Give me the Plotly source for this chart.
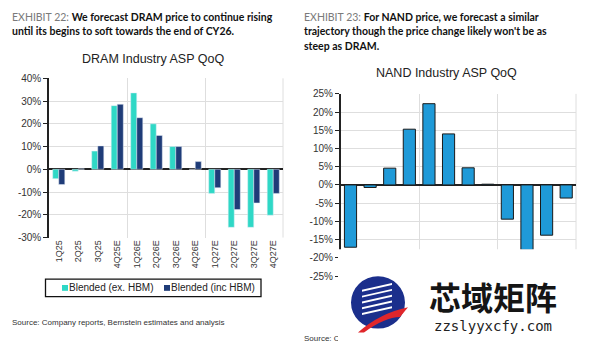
import plotly.graph_objects as go

quarters = ["1Q25", "2Q25", "3Q25", "4Q25E", "1Q26E", "2Q26E", "3Q26E", "4Q26E",
            "1Q27E", "2Q27E", "3Q27E", "4Q27E"]
dram_ex_hbm = [-4.1, -0.8, 8.0, 28.0, 33.6, 20.0, 10.0, 0.0, -10.6, -25.5, -25.5, -20.2]
dram_inc_hbm = [-6.7, 0.2, 10.3, 28.6, 22.7, 14.9, 10.0, 3.4, -8.1, -17.7, -14.8, -10.6]
nand = [-17.1, -0.7, 4.6, 15.3, 22.3, 14.0, 4.7, 0.2, -9.4, -17.9, -13.8, -3.6]
dram_ticks = [40, 30, 20, 10, 0, -10, -20, -30]
nand_ticks = [25, 20, 15, 10, 5, 0, -5, -10, -15, -20, -25]
series_names = ["Blended (ex. HBM)", "Blended (inc HBM)"]

W, H = 600, 354
idx = list(range(len(quarters)))

TEAL = "#2fd8c6"
NAVY = "#1f3c78"
BLUE = "#1f9ad8"
GRID = "#dedede"
SANS = "Liberation Sans, Arial, sans-serif"


def px(x):
    return x / W


def py(y):
    return 1 - y / H


fig = go.Figure()
fig.add_trace(go.Bar(x=idx, y=dram_ex_hbm, name=series_names[0], marker_color=TEAL,
                     xaxis="x", yaxis="y", showlegend=False))
fig.add_trace(go.Bar(x=idx, y=dram_inc_hbm, name=series_names[1], marker_color=NAVY,
                     xaxis="x", yaxis="y", showlegend=False))
fig.add_trace(go.Bar(x=idx, y=nand, name="NAND", marker=dict(color=BLUE, line=dict(color="#1a1a1a", width=1)),
                     xaxis="x2", yaxis="y2", showlegend=False))

xcommon = dict(tickmode="array", tickvals=idx, ticktext=quarters, tickangle=-90,
               range=[-0.5, 11.5], showgrid=False, zeroline=False, showline=False,
               ticks="", tickfont=dict(family=SANS, size=9, color="#333"),
               minor=dict(tickmode="array", tickvals=[3.5, 7.5, 11.5], showgrid=True,
                          gridcolor=GRID, gridwidth=1, ticks=""),
               fixedrange=True)
ycommon = dict(showgrid=True, gridcolor=GRID, gridwidth=1,
               zeroline=True, zerolinecolor="#222", zerolinewidth=1.5,
               showline=True, linecolor="#222", linewidth=1.5, ticks="outside",
               ticklen=4, tickcolor="#222", tickfont=dict(family=SANS, size=10, color="#333"),
               fixedrange=True, tickmode="array")

fig.update_layout(
    width=W, height=H, autosize=False,
    margin=dict(l=0, r=0, t=0, b=0),
    paper_bgcolor="white", plot_bgcolor="white",
    barmode="group", bargap=0.38, bargroupgap=0,
    xaxis=dict(domain=[px(49), px(283)], anchor="y", **xcommon),
    yaxis=dict(domain=[py(240), py(75.7)], anchor="x", range=[-30, 40],
               tickvals=dram_ticks, ticktext=[f"{v}%" for v in dram_ticks], **ycommon),
    xaxis2=dict(domain=[px(340.7), px(576)], anchor="y2", **xcommon),
    yaxis2=dict(domain=[py(279.7), py(91.7)], anchor="x2", range=[-25, 25],
                tickvals=nand_ticks, ticktext=[f"{v}%" for v in nand_ticks], **ycommon),
    showlegend=False,
)

shapes = []
# right borders of plot areas
for xr, yr in (("x domain", "y domain"), ("x2 domain", "y2 domain")):
    shapes.append(dict(type="line", xref=xr, yref=yr, x0=1, x1=1, y0=0, y1=1,
                       line=dict(color=GRID, width=1), layer="below"))
# legend box and swatches (DRAM)
shapes.append(dict(type="rect", xref="paper", yref="paper", x0=px(45.5), x1=px(261), y0=py(301),
                   y1=py(283), line=dict(color="#111", width=1.3), fillcolor="white"))
for sx, col in ((62, TEAL), (164, NAVY)):
    shapes.append(dict(type="rect", xref="paper", yref="paper", x0=px(sx), x1=px(sx + 6),
                       y0=py(295), y1=py(289), line=dict(width=0), fillcolor=col))

# watermark (covers lower part of the NAND chart)
shapes.append(dict(type="rect", xref="paper", yref="paper", x0=px(338), x1=1, y0=0, y1=py(252),
                   line=dict(width=0), fillcolor="white", layer="above"))
shapes.append(dict(type="circle", xref="paper", yref="paper", x0=px(351), x1=px(405),
                   y0=py(334), y1=py(280), line=dict(width=0), fillcolor="#1b2f8c", layer="above"))
for k in range(5):
    yy = 290 + k * 6
    shapes.append(dict(type="path", xref="paper", yref="paper", layer="above",
                       path=f"M {px(362)},{py(yy + 4)} L {px(392)},{py(yy - 3)} L {px(392)},{py(yy - 1)} L {px(362)},{py(yy + 6)} Z",
                       fillcolor="white", line=dict(width=0)))
shapes.append(dict(type="path", xref="paper", yref="paper", layer="above",
                   path=f"M {px(358)},{py(338)} Q {px(380)},{py(318)} {px(408)},{py(312)} L {px(400)},{py(322)} Q {px(385)},{py(322)} {px(364)},{py(338)} Z",
                   fillcolor="#e0262b", line=dict(width=0)))
fig.update_layout(shapes=shapes)

HDR = "Lato, Open Sans, sans-serif"
GREY = "#7a7a7a"
HS = 10.5
ann = []


def text(x, y, t, size, family=SANS, color="#222", xanchor="left", **kw):
    ann.append(dict(x=px(x), y=py(y), xref="paper", yref="paper", xanchor=xanchor, yanchor="middle",
                    showarrow=False, text=t, font=dict(family=family, size=size, color=color), **kw))


text(10, 12, f"<span style='color:{GREY}'>EXHIBIT 22:</span> <b>We forecast DRAM price to continue rising</b>",
     HS, HDR, "#111")
text(10, 27, "<b>until its begins to soft towards the end of CY26.</b>", HS, HDR, "#111")
text(302, 12, f"<span style='color:{GREY}'>EXHIBIT 23:</span> <b>For NAND price, we forecast a similar</b>",
     HS, HDR, "#111")
text(302, 27, "<b>trajectory though the price change likely won't be as</b>", HS, HDR, "#111")
text(302, 42, "<b>steep as DRAM.</b>", HS, HDR, "#111")
text(153, 56, "DRAM Industry ASP QoQ", 12.5, xanchor="center")
text(446, 70, "NAND Industry ASP QoQ", 12.5, xanchor="center")
text(67, 292, series_names[0], 10)
text(169, 292, series_names[1], 10)
text(10, 328, "Source: Company reports, Bernstein estimates and analysis", 8, color="#333")
# the NAND source line is mostly hidden by the watermark: only its start shows
ann.append(dict(x=px(303), y=py(344), xref="paper", yref="paper", xanchor="left", yanchor="middle",
                showarrow=False, text="Source: Company reports", width=34, align="left", borderpad=0,
                font=dict(family=SANS, size=8, color="#333")))
text(493, 300, "<b>芯域矩阵</b>", 32, family="Noto Sans CJK SC", color="#151515", xanchor="center")
text(493, 331, "zzslyyxcfy.com", 14, family="DejaVu Sans Mono", color="#222", xanchor="center")
fig.update_layout(annotations=ann)

fig.write_html("out.html")
